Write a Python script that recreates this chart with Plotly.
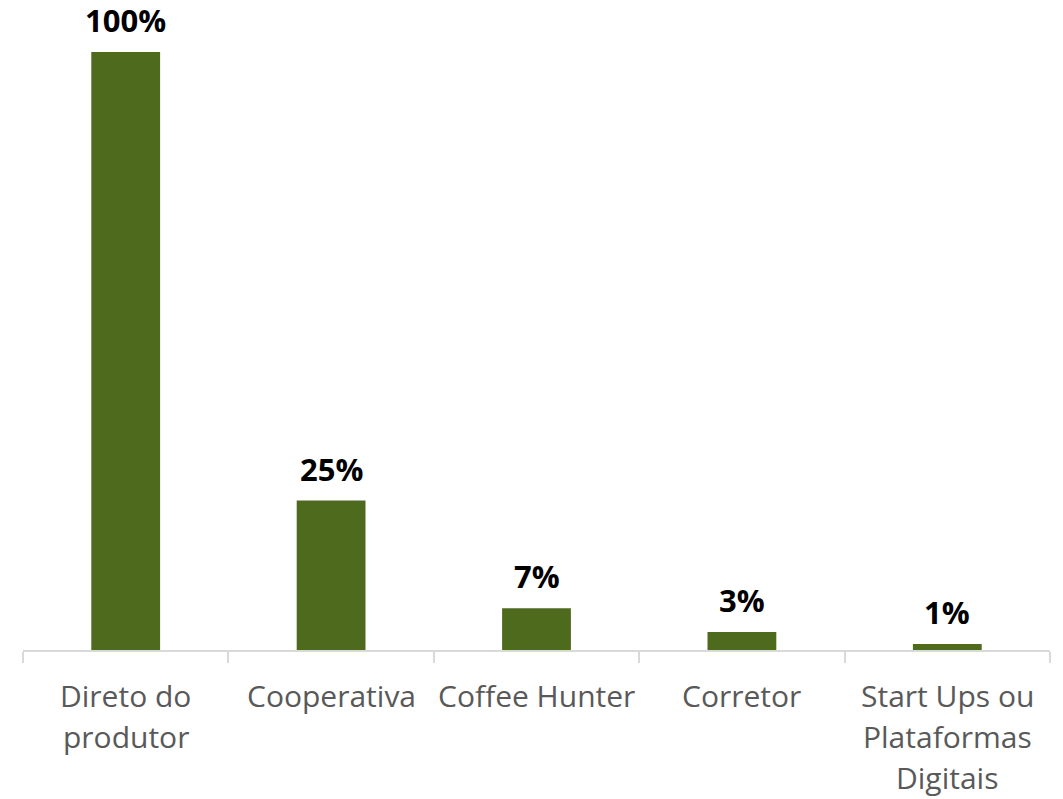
import plotly.graph_objects as go

# Canais de compra de café
categorias = ["Direto do produtor", "Cooperativa", "Coffee Hunter", "Corretor",
              "Start Ups ou Plataformas Digitais"]
linhas_rotulo = [["Direto do", "produtor"], ["Cooperativa"], ["Coffee Hunter"], ["Corretor"],
                 ["Start Ups ou", "Plataformas", "Digitais"]]
percentuais = [100, 25, 7, 3, 1]

COR_BARRA = "#4E6A1C"
COR_EIXO = "#D9D9D9"
COR_TEXTO_EIXO = "#595959"
FONTE = "Open Sans, Noto Sans, sans-serif"

fig = go.Figure(
    go.Bar(
        x=categorias,
        y=percentuais,
        marker=dict(color=COR_BARRA, line=dict(width=0)),
        hoverinfo="skip",
    )
)

# Rótulos de valor acima de cada barra
for cat, v in zip(categorias, percentuais):
    fig.add_annotation(
        x=cat, y=v, xref="x", yref="y",
        text=f"<b>{v}%</b>",
        showarrow=False,
        yanchor="bottom",
        yshift=9,
        font=dict(family=FONTE, size=31, color="#000000"),
    )

# Rótulos das categorias, uma linha por vez para controlar o espaçamento
for cat, linhas in zip(categorias, linhas_rotulo):
    for i, linha in enumerate(linhas):
        fig.add_annotation(
            x=cat, y=0, xref="x", yref="paper",
            text=linha,
            showarrow=False,
            yanchor="top",
            yshift=-(23 + 41 * i),
            font=dict(family=FONTE, size=30, color=COR_TEXTO_EIXO),
        )

fig.update_layout(
    width=1063,
    height=799,
    margin=dict(l=23, r=13, t=0, b=149),
    paper_bgcolor="white",
    plot_bgcolor="white",
    bargap=0.665,
    showlegend=False,
    font=dict(family=FONTE),
)

fig.update_xaxes(
    showticklabels=False,
    showline=True,
    linecolor=COR_EIXO,
    linewidth=2,
    ticks="outside",
    tickson="boundaries",
    ticklen=11,
    tickwidth=2,
    tickcolor=COR_EIXO,
    showgrid=False,
)

fig.update_yaxes(
    range=[0, 100 * 650 / 598],
    visible=False,
    showgrid=False,
    zeroline=False,
)

fig.write_html("out.html")
